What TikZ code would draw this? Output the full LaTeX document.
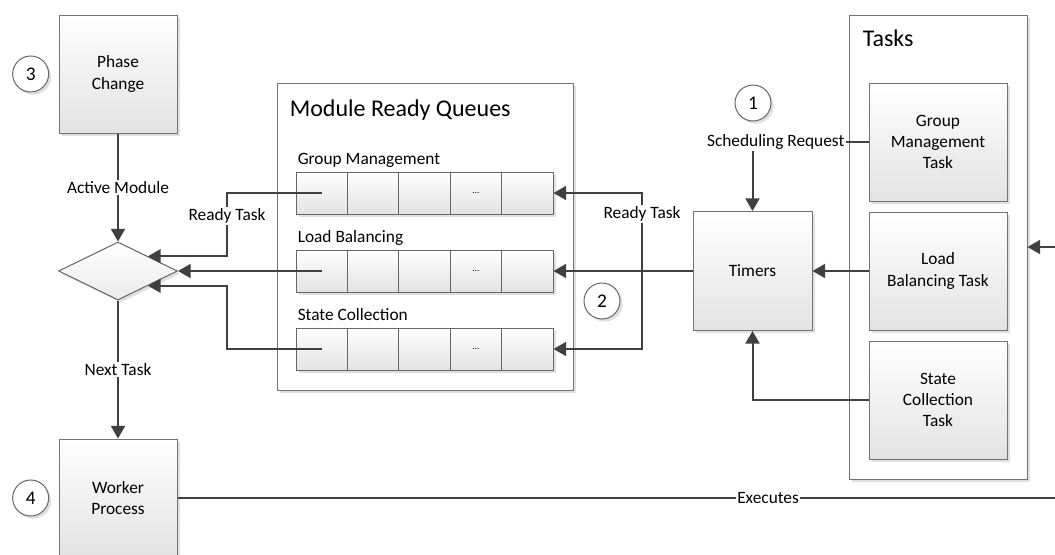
\documentclass[tikz,border=0pt]{standalone}
\usepackage{fontspec}
\setmainfont{Carlito}
\usetikzlibrary{positioning,arrows.meta,shapes.geometric,shadows,calc}
\newcommand{\bodyfont}{\fontsize{13}{15.9}\selectfont}
\tikzset{
  shade/.style={drop shadow={shadow xshift=2pt,shadow yshift=-2pt,fill=black!12,opacity=1}},
  box/.style={draw=black!55, line width=0.75pt, top color=white, bottom color=black!11,
    minimum width=88.5pt, minimum height=88.5pt, align=center, inner sep=2pt, font=\bodyfont, shade},
  taskbox/.style={box, minimum width=103.5pt},
  frame/.style={draw=black!55, line width=0.75pt, fill=white, shade},
  cell/.style={draw=black!60, line width=0.75pt, top color=white, bottom color=black!11,
    minimum width=38.55pt, minimum height=31.5pt, inner sep=0pt, shade},
  decide/.style={diamond, draw=black!60, line width=0.75pt, top color=white, bottom color=black!8,
    minimum width=89.25pt, minimum height=43.5pt, inner sep=0pt, shade},
  num/.style={circle, draw=black!60, line width=0.75pt, fill=white, minimum size=27pt,
    inner sep=0pt, font=\fontsize{14.5}{17}\selectfont, shade},
  link/.style={draw=black!75, line width=1.5pt},
  flow/.style={link, -{Triangle[length=9.5pt,width=10.5pt]}},
  lbl/.style={fill=white, inner sep=1pt, font=\bodyfont},
  heading/.style={font=\fontsize{18}{22}\selectfont, inner sep=0pt, anchor=base west},
  rowname/.style={font=\bodyfont, inner sep=0pt, anchor=base west}
}

\begin{document}
\begin{tikzpicture}[x=0.75pt, y=-0.75pt, node distance=7.5pt]
    \path[use as bounding box, clip] (0,0) rectangle (1055,554);

    % left column
    \node[box] (phase) at (118,74) {Phase\\Change};
    \node[decide] (decide) at (118,271) {};
    \node[box] (worker) at (118,498) {Worker\\Process};
    \node[num, left=7pt of phase] (n3) {3};
    \node[num, left=7pt of worker] (n4) {4};

    % queues
    \node[frame, minimum width=222pt, minimum height=230.25pt] (queues) at (425,236.5) {};
    \node[heading] at ($(queues.north west)+(13,34)$) {Module Ready Queues};
    \foreach \row/\name/\y in {gm/Group Management/193, lb/Load Balancing/271, sc/State Collection/349} {
      \foreach \i in {1,...,5}
        \node[cell] (\row\i) at ({270.3+51.4*\i},\y) {};
      \node[font=\fontsize{7}{8}\selectfont] at (\row4) {...};
      \node[rowname] at ($(\row1.north west)+(2,-7)$) {\name};
    }

    % tasks
    \node[frame, minimum width=133.5pt, minimum height=348pt] (tasks) at (938,247) {};
    \node[heading] at ($(tasks.north west)+(14,32)$) {Tasks};
    \node[taskbox] (lbt) at (938,271) {Load\\Balancing Task};
    \node[taskbox, above=of lbt] (gmt) {Group\\Management\\Task};
    \node[taskbox, below=of lbt] (sct) {State\\Collection\\Task};

    \node[box, minimum width=89.25pt, minimum height=89.25pt] (timers) at (752.5,271) {Timers};
    \node[num] (n1) at (753,103) {1};
    \node[num] (n2) at (602,301) {2};

    \coordinate (bendl) at (227,0);
    \coordinate (bendr) at (642,0);
    \coordinate (exec) at (1075,498);

    \draw[flow] (phase) -- node[lbl] {Active Module} (decide);
    \draw[flow] (decide) -- node[lbl] {Next Task} (worker);

    \draw[flow] (gm1.center) -- (gm1.center -| bendl) |- node[lbl, pos=0.18] {Ready Task} (decide.north east);
    \draw[flow] (lb1.center) -- (decide.east);
    \draw[flow] (sc1.center) -- (sc1.center -| bendl) |- (decide.south east);

    \draw[flow] (timers.west) -- (lb5.east);
    \draw[flow] (timers.west -| bendr) |- node[lbl, pos=0.365] {Ready Task} (gm5.east);
    \draw[flow] (timers.west -| bendr) |- (sc5.east);

    \draw[flow] (gmt.west) -| node[lbl, pos=0.4] {Scheduling Request} (timers.north);
    \draw[flow] (lbt.west) -- (timers.east);
    \draw[flow] (sct.west) -| (timers.south);

    \draw[flow] (worker.east) -- node[lbl, pos=0.658] {Executes} (exec) |- (tasks.east);
\end{tikzpicture}
\end{document}
